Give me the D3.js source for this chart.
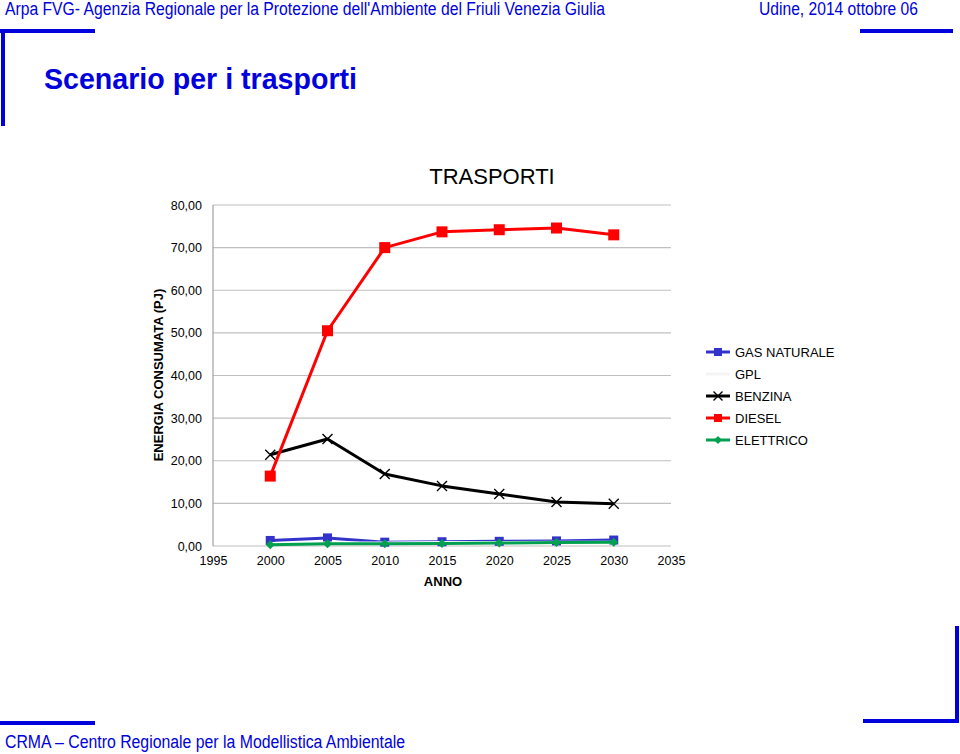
<!DOCTYPE html>
<html>
<head>
<meta charset="utf-8">
<script src="https://cdn.jsdelivr.net/npm/d3@7"></script>
<style>
  body { margin: 0; background: #fff; }
  svg { display: block; font-family: "Liberation Sans", Arial, sans-serif; }
</style>
</head>
<body>
<div id="chart"></div>
<script>
// data
const years = [2000, 2005, 2010, 2015, 2020, 2025, 2030];
const gasNaturale = [1.3, 1.9, 0.9, 1.0, 1.1, 1.2, 1.4];
const gpl = [0.6, 0.7, 0.7, 0.8, 0.8, 0.9, 0.9];
const benzina = [21.4, 25.1, 16.9, 14.1, 12.2, 10.3, 9.9];
const diesel = [16.4, 50.5, 70.0, 73.7, 74.2, 74.6, 73.0];
const elettrico = [0.3, 0.5, 0.5, 0.6, 0.7, 0.8, 0.9];
const yTicks = [0, 10, 20, 30, 40, 50, 60, 70, 80];
const xTicks = [1995, 2000, 2005, 2010, 2015, 2020, 2025, 2030, 2035];

const series = [
  { name: "GAS NATURALE", values: gasNaturale, color: "#3333cc", marker: "square", size: 9 },
  { name: "GPL", values: gpl, color: "#ffffff", marker: "none", size: 0 },
  { name: "BENZINA", values: benzina, color: "#000000", marker: "cross", size: 10 },
  { name: "DIESEL", values: diesel, color: "#ff0000", marker: "square", size: 11 },
  { name: "ELETTRICO", values: elettrico, color: "#00a050", marker: "diamond", size: 9 }
];

const width = 960, height = 754;
const blue = "#0000dd";

const svg = d3.select("#chart").append("svg")
  .attr("width", width)
  .attr("height", height);

// slide frame
const frame = svg.append("g").attr("fill", blue);
frame.append("rect").attr("x", 0).attr("y", 29).attr("width", 95).attr("height", 4);
frame.append("rect").attr("x", 1).attr("y", 29).attr("width", 4).attr("height", 97);
frame.append("rect").attr("x", 860).attr("y", 29).attr("width", 93).attr("height", 4);
frame.append("rect").attr("x", 0).attr("y", 721).attr("width", 95).attr("height", 4);
frame.append("rect").attr("x", 863).attr("y", 719).attr("width", 96).attr("height", 4);
frame.append("rect").attr("x", 955).attr("y", 626).attr("width", 4).attr("height", 97);

svg.append("text")
  .attr("x", 5).attr("y", 15)
  .attr("font-family", "'Liberation Sans Narrow', 'Liberation Sans', Arial, sans-serif")
  .attr("font-size", 18)
  .attr("fill", blue)
  .attr("textLength", 600)
  .attr("lengthAdjust", "spacingAndGlyphs")
  .text("Arpa FVG- Agenzia Regionale per la Protezione dell'Ambiente del Friuli Venezia Giulia");

svg.append("text")
  .attr("x", 759).attr("y", 15)
  .attr("font-family", "'Liberation Sans Narrow', 'Liberation Sans', Arial, sans-serif")
  .attr("font-size", 18)
  .attr("fill", blue)
  .attr("textLength", 159)
  .attr("lengthAdjust", "spacingAndGlyphs")
  .text("Udine, 2014 ottobre 06");

svg.append("text")
  .attr("x", 44).attr("y", 89)
  .attr("font-family", "'Liberation Sans Narrow', 'Liberation Sans', Arial, sans-serif")
  .attr("font-size", 30)
  .attr("font-weight", "bold")
  .attr("fill", blue)
  .attr("textLength", 313)
  .attr("lengthAdjust", "spacingAndGlyphs")
  .text("Scenario per i trasporti");

svg.append("text")
  .attr("x", 5).attr("y", 748)
  .attr("font-family", "'Liberation Sans Narrow', 'Liberation Sans', Arial, sans-serif")
  .attr("font-size", 18)
  .attr("fill", blue)
  .attr("textLength", 400)
  .attr("lengthAdjust", "spacingAndGlyphs")
  .text("CRMA – Centro Regionale per la Modellistica Ambientale");

// chart
const x = d3.scaleLinear().domain([1995, 2035]).range([213, 671]);
const y = d3.scaleLinear().domain([0, 80]).range([546, 205]);

svg.append("text")
  .attr("x", 492).attr("y", 184)
  .attr("text-anchor", "middle")
  .attr("font-size", 22)
  .attr("fill", "#000")
  .text("TRASPORTI");

svg.append("g")
  .selectAll("line")
  .data(yTicks)
  .join("line")
  .attr("x1", x(1995)).attr("x2", x(2035))
  .attr("y1", d => y(d)).attr("y2", d => y(d))
  .attr("stroke", "#c0c0c0")
  .attr("stroke-width", 1.2);

svg.append("line")
  .attr("x1", x(1995)).attr("x2", x(1995))
  .attr("y1", y(80)).attr("y2", y(0))
  .attr("stroke", "#a0a0a0")
  .attr("stroke-width", 1.2);

const fmt = v => d3.format(".2f")(v).replace(".", ",");

const yAxis = d3.axisLeft(y).tickValues(yTicks).tickFormat(fmt).tickSize(0).tickPadding(11);
svg.append("g")
  .attr("transform", `translate(${x(1995)},0)`)
  .call(yAxis)
  .call(g => g.select(".domain").remove())
  .call(g => g.selectAll("text")
    .attr("font-size", 12.5)
    .attr("font-family", "'Liberation Sans', Arial, sans-serif")
    .attr("fill", "#000"));

const xAxis = d3.axisBottom(x).tickValues(xTicks).tickFormat(d3.format("d")).tickSize(0).tickPadding(10);
svg.append("g")
  .attr("transform", `translate(0,${y(0)})`)
  .call(xAxis)
  .call(g => g.select(".domain").remove())
  .call(g => g.selectAll("text")
    .attr("font-size", 12.5)
    .attr("font-family", "'Liberation Sans', Arial, sans-serif")
    .attr("fill", "#000"));

svg.append("text")
  .attr("x", 443).attr("y", 586)
  .attr("text-anchor", "middle")
  .attr("font-size", 13)
  .attr("font-weight", "bold")
  .text("ANNO");

svg.append("text")
  .attr("transform", `translate(163,375) rotate(-90)`)
  .attr("text-anchor", "middle")
  .attr("font-size", 13)
  .attr("font-weight", "bold")
  .text("ENERGIA CONSUMATA (PJ)");

function drawMarker(g, s, cx, cy) {
  const h = s.size / 2;
  if (s.marker === "square") {
    g.append("rect")
      .attr("x", cx - h).attr("y", cy - h)
      .attr("width", s.size).attr("height", s.size)
      .attr("fill", s.color);
  } else if (s.marker === "diamond") {
    g.append("path")
      .attr("d", `M${cx},${cy - h}L${cx + h},${cy}L${cx},${cy + h}L${cx - h},${cy}Z`)
      .attr("fill", s.color);
  } else if (s.marker === "cross") {
    g.append("path")
      .attr("d", `M${cx - h},${cy - h}L${cx + h},${cy + h}M${cx - h},${cy + h}L${cx + h},${cy - h}`)
      .attr("stroke", s.color)
      .attr("stroke-width", 1.4)
      .attr("fill", "none");
  }
}

const line = d3.line().x(d => x(d[0])).y(d => y(d[1]));

series.forEach(s => {
  const pts = years.map((yr, i) => [yr, s.values[i]]);
  const g = svg.append("g");
  g.append("path")
    .attr("d", line(pts))
    .attr("fill", "none")
    .attr("stroke", s.color)
    .attr("stroke-width", 3)
    .attr("stroke-linejoin", "round");
  pts.forEach(p => drawMarker(g, s, x(p[0]), y(p[1])));
});

// legend
const legend = svg.append("g").attr("transform", "translate(706,352)");
series.forEach((s, i) => {
  const row = legend.append("g").attr("transform", `translate(0,${i * 22})`);
  row.append("line")
    .attr("x1", 0).attr("x2", 24)
    .attr("stroke", s.name === "GPL" ? "#f4f4f4" : s.color)
    .attr("stroke-width", 3);
  drawMarker(row, Object.assign({}, s, { size: s.marker === "cross" ? 9 : 8 }), 12, 0);
  row.append("text")
    .attr("x", 29).attr("y", 5)
    .attr("font-size", 13)
    .attr("fill", "#000")
    .text(s.name);
});
</script>
</body>
</html>
